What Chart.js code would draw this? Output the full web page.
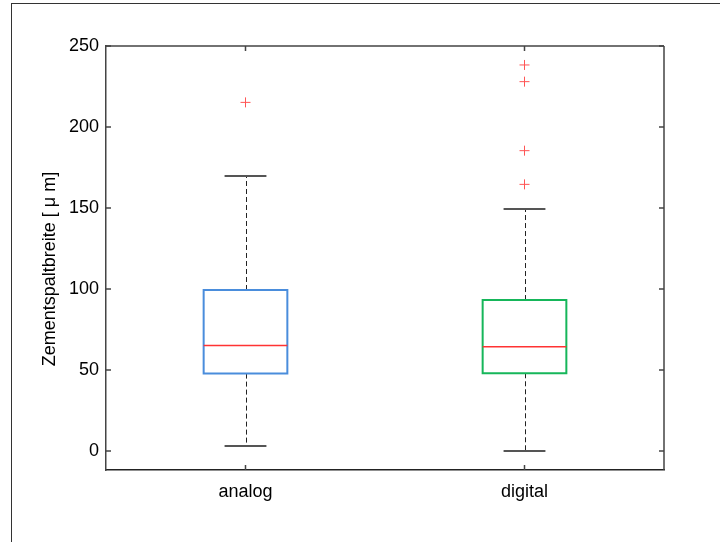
<!DOCTYPE html>
<html>
<head>
<meta charset="utf-8">
<script src="https://cdn.jsdelivr.net/npm/chart.js@4.4.1/dist/chart.umd.min.js"></script>
<style>
  html, body { margin: 0; padding: 0; background: #fff; }
  #wrap { position: relative; width: 720px; height: 542px; overflow: hidden; }
  #frame { position: absolute; left: 11px; top: 3px; width: 720px; height: 545px;
           border-top: 1px solid #333; border-left: 1px solid #333; pointer-events: none; }
  canvas { position: absolute; left: 0; top: 0; }
</style>
</head>
<body>
<div id="wrap">
  <canvas id="c" width="720" height="542"></canvas>
  <div id="frame"></div>
</div>
<script>
// ---- data ----
const categories   = ['analog', 'digital'];
const whiskerLow   = [3.3, 0];
const q1           = [47.8, 48.0];
const medians      = [65.2, 64.4];
const q3           = [99.4, 93.2];
const whiskerHigh  = [169.8, 149.4];
const outliersAnalog  = [215.2];
const outliersDigital = [238.3, 228.0, 185.4, 164.6];
const yTickValues  = [0, 50, 100, 150, 200, 250];
const boxColors    = ['#4a8ddc', '#16b65a'];
const yTitle       = 'Zementspaltbreite [ \u03bc m]';

const outlierPoints = [];
outliersAnalog.forEach(v => outlierPoints.push({x: 1, y: v}));
outliersDigital.forEach(v => outlierPoints.push({x: 2, y: v}));

const FONT = 'Liberation Sans, Arial, Helvetica, sans-serif';

const boxPlugin = {
  id: 'boxes',
  beforeDatasetsDraw(chart) {
    const ctx = chart.ctx, xs = chart.scales.x, ys = chart.scales.y;
    const half = 0.15, capHalf = 0.075;
    ctx.save();
    categories.forEach((cat, i) => {
      const pos = i + 1;
      const xl = xs.getPixelForValue(pos - half), xr = xs.getPixelForValue(pos + half);
      const xc = xs.getPixelForValue(pos);
      const cl = xs.getPixelForValue(pos - capHalf), cr = xs.getPixelForValue(pos + capHalf);
      const yLo = ys.getPixelForValue(whiskerLow[i]), yHi = ys.getPixelForValue(whiskerHigh[i]);
      const yQ1 = ys.getPixelForValue(q1[i]), yQ3 = ys.getPixelForValue(q3[i]);
      const yMed = ys.getPixelForValue(medians[i]);
      // whiskers (dashed)
      ctx.strokeStyle = '#222';
      ctx.lineWidth = 1;
      ctx.setLineDash([5, 3]);
      ctx.beginPath();
      ctx.moveTo(Math.round(xc) + 0.5, yQ3); ctx.lineTo(Math.round(xc) + 0.5, yHi);
      ctx.moveTo(Math.round(xc) + 0.5, yQ1); ctx.lineTo(Math.round(xc) + 0.5, yLo);
      ctx.stroke();
      ctx.setLineDash([]);
      // caps
      ctx.strokeStyle = '#555';
      ctx.lineWidth = 2;
      ctx.beginPath();
      ctx.moveTo(cl, Math.round(yHi)); ctx.lineTo(cr, Math.round(yHi));
      ctx.moveTo(cl, Math.round(yLo)); ctx.lineTo(cr, Math.round(yLo));
      ctx.stroke();
      // box
      ctx.strokeStyle = boxColors[i];
      ctx.lineWidth = 2;
      ctx.fillStyle = '#fff';
      ctx.beginPath();
      ctx.rect(xl, yQ3, xr - xl, yQ1 - yQ3);
      ctx.fill();
      ctx.stroke();
      // median
      ctx.strokeStyle = '#ff3333';
      ctx.lineWidth = 1.5;
      ctx.beginPath();
      ctx.moveTo(xl, yMed); ctx.lineTo(xr, yMed);
      ctx.stroke();
    });
    ctx.restore();
  },
  afterDraw(chart) {
    const ctx = chart.ctx, xs = chart.scales.x, ys = chart.scales.y;
    const a = chart.chartArea;
    ctx.save();
    ctx.strokeStyle = '#444';
    ctx.lineWidth = 1.5;
    // top and right frame lines
    ctx.beginPath();
    ctx.moveTo(a.left, a.top); ctx.lineTo(a.right, a.top);
    ctx.moveTo(a.right, a.top); ctx.lineTo(a.right, a.bottom);
    ctx.stroke();
    // inward ticks
    ctx.beginPath();
    ys.ticks.forEach(t => {
      const y = ys.getPixelForValue(t.value);
      ctx.moveTo(a.left, y); ctx.lineTo(a.left + 5, y);
      ctx.moveTo(a.right, y); ctx.lineTo(a.right - 5, y);
    });
    xs.ticks.forEach(t => {
      const x = xs.getPixelForValue(t.value);
      ctx.moveTo(x, a.bottom); ctx.lineTo(x, a.bottom - 5);
      ctx.moveTo(x, a.top); ctx.lineTo(x, a.top + 5);
    });
    ctx.stroke();
    // y-axis title (real text), centred like the reference
    ctx.translate(50, (a.top + a.bottom) / 2 + 11);
    ctx.rotate(-Math.PI / 2);
    ctx.fillStyle = '#000';
    ctx.font = '18px ' + FONT;
    ctx.textAlign = 'center';
    ctx.textBaseline = 'middle';
    ctx.fillText(yTitle, 0, 0);
    ctx.restore();
  }
};

new Chart(document.getElementById('c'), {
  type: 'scatter',
  data: {
    datasets: [{
      data: outlierPoints,
      pointStyle: 'cross',
      radius: 5,
      hoverRadius: 5,
      borderColor: '#ff5555',
      backgroundColor: '#ff5555',
      borderWidth: 1
    }]
  },
  options: {
    responsive: false,
    animation: false,
    devicePixelRatio: 1,
    layout: { padding: { left: 0, top: 46, right: 56, bottom: 0 } },
    plugins: { legend: { display: false }, tooltip: { enabled: false } },
    scales: {
      x: {
        type: 'linear',
        min: 0.5, max: 2.5,
        afterBuildTicks: s => { s.ticks = categories.map((c, i) => ({ value: i + 1 })); },
        afterFit: s => { s.height = 72; },
        grid: { display: false, drawTicks: false },
        border: { display: true, color: '#222', width: 1.5 },
        ticks: {
          padding: 11,
          color: '#000',
          font: { family: FONT, size: 18 },
          callback: v => categories[Math.round(v) - 1]
        }
      },
      y: {
        type: 'linear',
        min: -11.7, max: 250,
        afterBuildTicks: s => { s.ticks = yTickValues.map(v => ({ value: v })); },
        afterFit: s => { s.width = 106; },
        grid: { display: false, drawTicks: false },
        border: { display: true, color: '#444', width: 1.5 },
        ticks: {
          padding: 7,
          color: '#000',
          font: { family: FONT, size: 18 },
          callback: v => String(v)
        }
      }
    }
  },
  plugins: [boxPlugin]
});
</script>
</body>
</html>
